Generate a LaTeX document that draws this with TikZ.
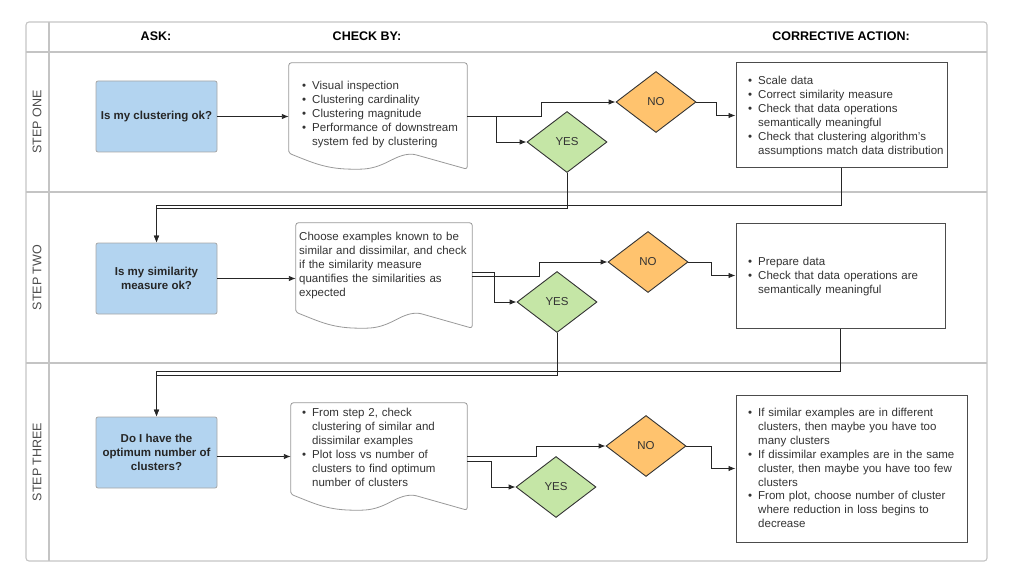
\documentclass[tikz,border=0pt]{standalone}
\usepackage{fontspec}
\setmainfont{Liberation Sans}
\usetikzlibrary{shapes.geometric,arrows.meta,calc}
\definecolor{askblue}{HTML}{B3D4F0}
\definecolor{noorange}{HTML}{FFC36E}
\definecolor{yesgreen}{HTML}{C5E6A6}
\definecolor{framegray}{HTML}{C4C4C4}
\definecolor{txt}{HTML}{333333}
\newlength\bind \setlength\bind{10pt}
\newcommand\nl{\hfil\break}
\newcommand\bitem[1]{\noindent\hangindent=\bind\hangafter=1\hbox to \bind{\textbullet\hss}#1\par}
\newcommand\docshape[1]{%
  \draw[docline] ($(#1.south west)+(0,-16)$) -- (#1.north west) -- (#1.north east) -- (#1.south east)
    -- ($(#1.south west)!0.7!(#1.south east)+(0,-15)$)
    .. controls +(-20,0) and +(28,0) .. ($(#1.south west)!0.38!(#1.south east)$)
    .. controls +(-30,0) and +(25,10) .. ($(#1.south west)+(0,-16)$) -- cycle;}
\begin{document}
\begin{tikzpicture}[x=1pt,y=-1pt,
  framel/.style={draw=framegray,line width=1.1pt},
  askbox/.style={draw=gray!70,fill=askblue,rounded corners=2pt,minimum width=121pt,minimum height=71pt,
    align=center,font=\bfseries\fontsize{11.5}{14}\selectfont,text=black!85,line width=0.8pt},
  docanchor/.style={rectangle,inner sep=0pt},
  docline/.style={draw=gray!80,fill=white,line width=0.8pt,rounded corners=2.5pt},
  dia/.style={diamond,draw=black!80,line width=0.9pt,minimum width=80pt,minimum height=61pt,inner sep=0pt,
    font=\fontsize{11.5}{14}\selectfont,text=txt},
  corrbox/.style={rectangle,draw=black!70,line width=1pt,fill=white,inner sep=0pt},
  bodytext/.style={anchor=north west,inner sep=0pt,align=left,text=txt,font=\fontsize{11.5}{13.9}\selectfont},
  hdr/.style={font=\bfseries\fontsize{12.5}{14}\selectfont,text=black},
  steplbl/.style={rotate=90,font=\fontsize{12.5}{14}\selectfont,text=black!70},
  conn/.style={draw=black!85,line width=0.9pt,-{Latex[length=7pt,width=5.5pt]}}]
\useasboundingbox (0,0) rectangle (1024,588);
% frame
\draw[framel,rounded corners=3pt] (26,22) rectangle (987,561);
\draw[framel] (49,22) -- (49,561);
\draw[framel] (26,52) -- (987,52);
\draw[framel] (26,192) -- (987,192);
\draw[framel] (26,363) -- (987,363);
% headers
\node[hdr] (hask) at (156,36) {ASK:};
\node[hdr] (hcheck) at (367,36) {CHECK BY:};
\node[hdr] (hcorr) at (841,36) {CORRECTIVE ACTION:};
\node[steplbl] (s1) at (37,122) {STEP ONE};
\node[steplbl] (s2) at (37,277.5) {STEP TWO};
\node[steplbl] (s3) at (37,462) {STEP THREE};
% ask boxes
\node[askbox] (b1) at (156.5,116.5) {Is my clustering ok?};
\node[askbox] (b2) at (156.5,278.5) {Is my similarity\\measure ok?};
\node[askbox] (b3) at (156.5,452.5) {Do I have the\\optimum number of\\clusters?};
% documents
\node[docanchor,minimum width=178pt,minimum height=106pt] (d1) at (378,116) {};
\node[docanchor,minimum width=176pt,minimum height=105pt] (d2) at (384,275.5) {};
\node[docanchor,minimum width=176pt,minimum height=107pt] (d3) at (379,456.5) {};
\docshape{d1}
\docshape{d2}
\docshape{d3}
\node[bodytext,text width=170pt] (t1) at (302,81) {%
\bitem{Visual inspection}\bitem{Clustering cardinality}\bitem{Clustering magnitude}%
\bitem{Performance of downstream\nl system fed by clustering}};
\node[bodytext,text width=175pt] (t2) at (299,232) {%
Choose examples known to be\\similar and dissimilar, and check\\if the similarity measure\\quantifies the similarities as\\expected};
\node[bodytext,text width=170pt] (t3) at (302,408) {%
\bitem{From step 2, check\nl clustering of similar and\nl dissimilar examples}%
\bitem{Plot loss vs number of\nl clusters to find optimum\nl number of clusters}};
% diamonds
\node[dia,fill=noorange] (no1) at (656,102) {NO};
\node[dia,fill=yesgreen] (yes1) at (567,142) {YES};
\node[dia,fill=noorange] (no2) at (648,262) {NO};
\node[dia,fill=yesgreen] (yes2) at (557,302) {YES};
\node[dia,fill=noorange] (no3) at (646,446) {NO};
\node[dia,fill=yesgreen] (yes3) at (556,487) {YES};
% corrective boxes
\node[corrbox,minimum width=211pt,minimum height=105pt] (c1) at (841.5,115.5) {};
\node[corrbox,minimum width=209pt,minimum height=105pt] (c2) at (840.5,275.5) {};
\node[corrbox,minimum width=231pt,minimum height=147pt] (c3) at (851.5,468.5) {};
\node[bodytext,text width=215pt] (ct1) at (748,76) {%
\bitem{Scale data}\bitem{Correct similarity measure}%
\bitem{Check that data operations\nl semantically meaningful}%
\bitem{Check that clustering algorithm’s\nl assumptions match data distribution}};
\node[bodytext,text width=215pt] (ct2) at (748,257) {%
\bitem{Prepare data}%
\bitem{Check that data operations are\nl semantically meaningful}};
\node[bodytext,text width=235pt] (ct3) at (748,408) {%
\bitem{If similar examples are in different\nl clusters, then maybe you have too\nl many clusters}%
\bitem{If dissimilar examples are in the same\nl cluster, then maybe you have too few\nl clusters}%
\bitem{From plot, choose number of cluster\nl where reduction in loss begins to\nl decrease}};
% connectors step one
\draw[conn] (b1.east) -- (b1.east -| d1.west);
\draw[conn] (d1.east) -- ++(74,0) |- (no1.west);
\draw[conn] (d1.east) -- ++(29,0) |- (yes1.west);
\draw[conn] (no1.east) -- ++(20,0) |- (c1.west);
\draw[conn] (yes1.south) -- ++(0,35) -| (b2.north);
\draw[conn] (c1.south) -- ++(0,37) -| (b2.north);
% connectors step two
\draw[conn] (b2.east) -- (b2.east -| d2.west);
\draw[conn] ([yshift=3pt]d2.east) -- ++(22,0) |- (yes2.west);
\draw[conn] ([yshift=-1pt]d2.east) -- ++(67,0) |- (no2.west);
\draw[conn] (no2.east) -- ++(23,0) |- (c2.west);
\draw[conn] (yes2.south) -- ++(0,42) -| (b3.north);
\draw[conn] (c2.south) -- ++(0,43) -| (b3.north);
% connectors step three
\draw[conn] (b3.east |- d3.west) -- (d3.west);
\draw[conn] (d3.east) -- ++(69,0) |- (no3.west);
\draw[conn] ([yshift=-5pt]d3.east) -- ++(24,0) |- (yes3.west);
\draw[conn] (no3.east) -- ++(25,0) |- (c3.west);
\end{tikzpicture}
\end{document}
